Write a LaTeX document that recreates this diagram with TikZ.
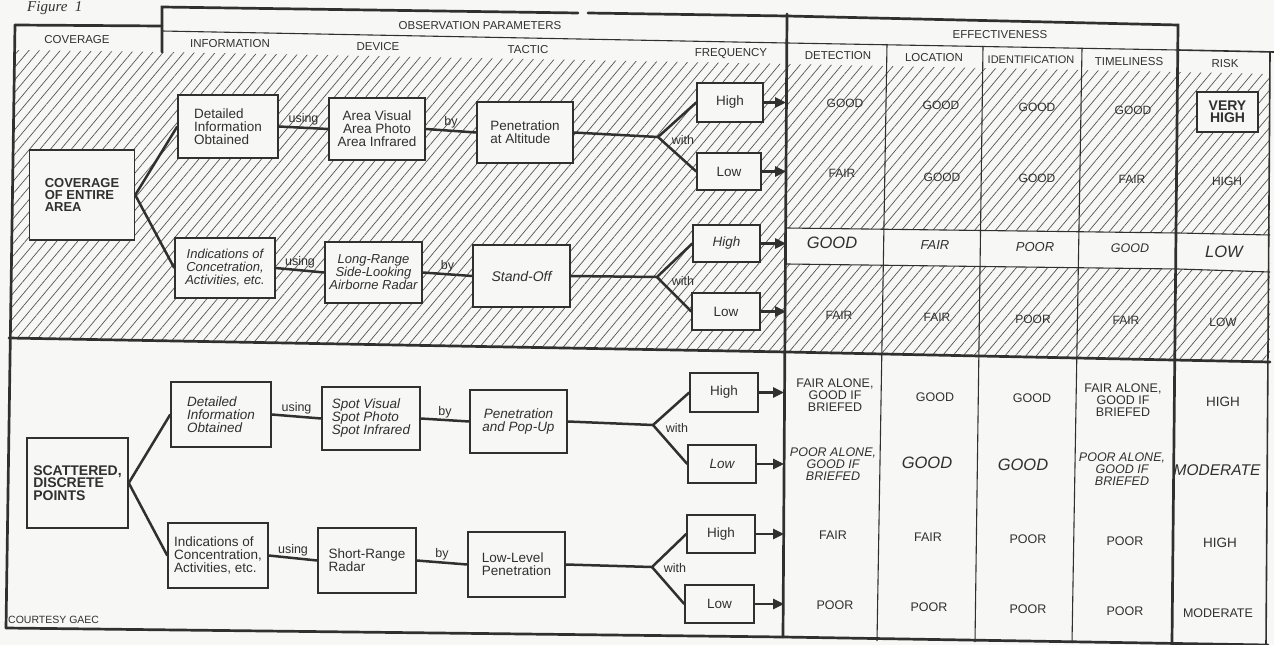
\documentclass[tikz,border=0pt]{standalone}
\usepackage{fontspec}
\setmainfont{Liberation Sans}
\newfontfamily\figfont{Liberation Serif}
\usetikzlibrary{arrows.meta,patterns.meta}
\definecolor{ink}{HTML}{303030}
\definecolor{paper}{HTML}{F7F7F5}
\definecolor{hatchc}{HTML}{555555}
\newcommand\fsz[2]{\fontsize{#1}{#2}\selectfont}
\tikzset{
  frame/.style={draw=ink, line width=2.7pt, line cap=round},
  rule/.style={draw=ink, line width=1.1pt},
  hdr/.style={text=ink, font=\fsz{11.5}{12}, inner sep=0pt},
  bx/.style={draw=ink, fill=paper, line width=1.5pt, text=ink, font=\fsz{13.5}{13}, align=center, inner sep=2pt},
  bigbx/.style={bx, font=\bfseries\fsz{13}{12}, align=left},
  conn/.style={draw=ink, line width=2.5pt, line join=round},
  arr/.style={draw=ink, line width=2.5pt, -{Triangle[length=11pt,width=10pt]}},
  lbl/.style={text=ink, font=\fsz{12.5}{13}, inner sep=1pt},
  val/.style={text=ink, font=\fsz{12}{12}, align=center, inner sep=0pt},
  lval/.style={text=ink, font=\fsz{12.5}{12}, align=center, inner sep=0pt},
  ival/.style={text=ink, font=\itshape\fsz{13}{12}, align=center, inner sep=0pt},
  bigval/.style={text=ink, font=\itshape\fsz{16.5}{16}, align=center, inner sep=0pt},
  hatched/.style={pattern={Lines[angle=50,distance=8pt,line width=0.7pt]}, pattern color=hatchc},
}
\begin{document}
\begin{tikzpicture}[x=1pt,y=-1pt]
\fill[paper] (0,0) rectangle (1274,645);
\useasboundingbox (0,0) rectangle (1274,645);

% hatched upper section
\fill[hatched] (15,50) -- (162,52) -- (787,64) -- (1178,72) -- (1270,74) -- (1270,362) -- (787,352) -- (9,338) -- cycle;
% white row in effectiveness
\fill[paper] (787,228) -- (1178,233) -- (1270,235) -- (1270,272) -- (1178,269) -- (787,264) -- cycle;
\draw[rule] (787,228) -- (1178,233) -- (1270,235);
\draw[rule] (787,264) -- (1178,269) -- (1270,272);

% figure title
\node[anchor=base west, text=ink, font=\figfont\itshape\fsz{15}{15}, inner sep=0pt] (fig) at (27,11) {Figure\ \ 1};

% frame and rules
\draw[frame] (15,25) -- (6,628);
\draw[frame] (15,25) -- (162,26);
\draw[frame] (162,52) -- (162,7) -- (578,13);
\draw[frame] (588,13) -- (787,16) -- (1178,25) -- (1172,642);
\draw[rule] (162,31) -- (787,43);
\draw[rule] (787,43) -- (1178,50);
\draw[draw=ink, line width=1.6pt] (1178,50) -- (1274,52);
\draw[draw=ink, line width=1.6pt] (1270,52) -- (1266,645);
\draw[rule] (887,44) -- (877,641);
\draw[rule] (983,46) -- (975,642);
\draw[rule] (1082,48) -- (1072,643);
\draw[frame] (787,14) -- (783,637);
\draw[frame] (9,338) -- (787,352) -- (1270,362);
\draw[frame] (6,628) -- (783,637) -- (1268,645);

% headers
\node[hdr] (hcov) at (77,40) {COVERAGE};
\node[hdr] (hobs) at (480,26) {OBSERVATION PARAMETERS};
\node[hdr] (hinf) at (230,44) {INFORMATION};
\node[hdr] (hdev) at (378,47) {DEVICE};
\node[hdr] (htac) at (528,50) {TACTIC};
\node[hdr] (hfrq) at (731,54) {FREQUENCY};
\node[hdr] (heff) at (1000,35) {EFFECTIVENESS};
\node[hdr] (hdet) at (838,56) {DETECTION};
\node[hdr] (hloc) at (934,58) {LOCATION};
\node[hdr, font=\fsz{11}{12}] (hidn) at (1031,60) {IDENTIFICATION};
\node[hdr] (htim) at (1129,62) {TIMELINESS};
\node[hdr] (hrsk) at (1225,64) {RISK};

% upper section boxes
\node[bigbx, minimum width=105pt, minimum height=90pt] (cov1) at (82,195) {COVERAGE\\OF ENTIRE\\AREA};
\node[bx, align=left, minimum width=100pt, minimum height=63pt] (inf1a) at (228,126.5) {Detailed\\Information\\Obtained};
\node[bx, font=\itshape\fsz{13}{13}, minimum width=100pt, minimum height=60pt] (inf1b) at (225,268) {Indications of\\Concetration,\\Activities, etc.};
\node[bx, minimum width=96pt, minimum height=62pt] (dev1a) at (377,129) {Area Visual\\Area Photo\\Area Infrared};
\node[bx, font=\itshape\fsz{13}{13}, minimum width=97pt, minimum height=61pt] (dev1b) at (373.5,272.5) {Long-Range\\Side-Looking\\Airborne Radar};
\node[bx, align=left, minimum width=96pt, minimum height=61pt] (tac1a) at (525,132.5) {Penetration\\at Altitude};
\node[bx, font=\itshape\fsz{14}{13}, minimum width=97pt, minimum height=62pt] (tac1b) at (521.5,276) {Stand-Off};
\node[bx, minimum width=66pt, minimum height=39pt] (f1) at (730,102.5) {High};
\node[bx, minimum width=64pt, minimum height=37pt] (f2) at (729,171.5) {Low};
\node[bx, font=\itshape\fsz{13.5}{13}, minimum width=67pt, minimum height=37pt] (f3) at (726.5,243.5) {High};
\node[bx, minimum width=68pt, minimum height=37pt] (f4) at (726,311.5) {Low};

% lower section boxes
\node[bigbx, font=\bfseries\fsz{14}{12.5}, minimum width=101pt, minimum height=90pt] (cov2) at (77.5,483) {SCATTERED,\\DISCRETE\\POINTS};
\node[bx, font=\itshape\fsz{13.5}{13}, align=left, minimum width=100pt, minimum height=65pt] (inf2a) at (221,414.5) {Detailed\\Information\\Obtained};
\node[bx, align=left, minimum width=100pt, minimum height=65pt] (inf2b) at (218,555.5) {Indications of\\Concentration,\\Activities, etc.};
\node[bx, font=\itshape\fsz{13.5}{13}, align=left, minimum width=98pt, minimum height=63pt] (dev2a) at (371,418.5) {Spot Visual\\Spot Photo\\Spot Infrared};
\node[bx, align=left, minimum width=98pt, minimum height=65pt] (dev2b) at (367,560.5) {Short-Range\\Radar};
\node[bx, font=\itshape\fsz{13.5}{13}, minimum width=97pt, minimum height=63pt] (tac2a) at (518.5,421.5) {Penetration\\and Pop-Up};
\node[bx, align=left, minimum width=97pt, minimum height=65pt] (tac2b) at (516.5,564.5) {Low-Level\\Penetration};
\node[bx, minimum width=68pt, minimum height=39pt] (g1) at (724,392.5) {High};
\node[bx, font=\itshape\fsz{13.5}{13}, minimum width=68pt, minimum height=38pt] (g2) at (722,464) {Low};
\node[bx, minimum width=68pt, minimum height=38pt] (g3) at (721,534) {High};
\node[bx, minimum width=69pt, minimum height=38pt] (g4) at (719.5,604) {Low};

% branch points and divider references
\coordinate (b1) at (658,137);
\coordinate (b2) at (657,277);
\coordinate (b3) at (653,425);
\coordinate (b4) at (652,567);
\coordinate (dvu) at (786,0);
\coordinate (dvl) at (784,0);

% connectors upper
\draw[conn] (cov1.east) -- (inf1a.west);
\draw[conn] (cov1.east) -- (inf1b.west);
\draw[conn] (inf1a.east) -- node[lbl, above] (u1) {using} (dev1a.west);
\draw[conn] (inf1b.east) -- node[lbl, above] (u2) {using} (dev1b.west);
\draw[conn] (dev1a.east) -- node[lbl, above] (y1) {by} (tac1a.west);
\draw[conn] (dev1b.east) -- node[lbl, above] (y2) {by} (tac1b.west);
\draw[conn] (tac1a.east) -- (b1) -- (f1.west);
\draw[conn] (b1) -- (f2.west);
\draw[conn] (tac1b.east) -- (b2) -- (f3.west);
\draw[conn] (b2) -- (f4.west);
\node[lbl] (w1) at (683,140) {with};
\node[lbl] (w2) at (683,281) {with};

% connectors lower
\draw[conn] (cov2.east) -- (inf2a.west);
\draw[conn] (cov2.east) -- (inf2b.west);
\draw[conn] (inf2a.east) -- node[lbl, above] (u3) {using} (dev2a.west);
\draw[conn] (inf2b.east) -- node[lbl, above] (u4) {using} (dev2b.west);
\draw[conn] (dev2a.east) -- node[lbl, above] (y3) {by} (tac2a.west);
\draw[conn] (dev2b.east) -- node[lbl, above] (y4) {by} (tac2b.west);
\draw[conn] (tac2a.east) -- (b3) -- (g1.west);
\draw[conn] (b3) -- (g2.west);
\draw[conn] (tac2b.east) -- (b4) -- (g3.west);
\draw[conn] (b4) -- (g4.west);
\node[lbl] (w3) at (677,428) {with};
\node[lbl] (w4) at (675,568) {with};

% arrows to the table
\foreach \n in {f1,f2,f3,f4} \draw[arr] (\n.east) -- (\n.east -| dvu);
\foreach \n in {g1,g2,g3,g4} \draw[arr] (\n.east) -- (\n.east -| dvl);

% effectiveness values, upper section
\node[val] (u11) at (845,103) {GOOD};
\node[val] (u12) at (941,105) {GOOD};
\node[val] (u13) at (1037,107) {GOOD};
\node[val] (u14) at (1133,110) {GOOD};
\node[draw=ink, fill=paper, line width=1.4pt, text=ink, font=\bfseries\fsz{14}{11.5}, align=center, inner sep=1pt, minimum width=61pt, minimum height=40pt] (u15) at (1227.5,112) {VERY\\HIGH};
\node[val] (u21) at (842,173) {FAIR};
\node[val] (u22) at (942,177) {GOOD};
\node[val] (u23) at (1037,178) {GOOD};
\node[val] (u24) at (1132,179) {FAIR};
\node[val] (u25) at (1227,181) {HIGH};
\node[bigval] (u31) at (832,243) {GOOD};
\node[ival] (u32) at (935,245) {FAIR};
\node[ival] (u33) at (1035,247) {POOR};
\node[ival, font=\itshape\fsz{12.5}{12}] (u34) at (1130,248) {GOOD};
\node[bigval] (u35) at (1224,252) {LOW};
\node[val] (u41) at (839,315) {FAIR};
\node[val] (u42) at (937,317) {FAIR};
\node[val] (u43) at (1033,319) {POOR};
\node[val] (u44) at (1126,320) {FAIR};
\node[val] (u45) at (1223,322) {LOW};

% effectiveness values, lower section
\node[lval] (l11) at (835,395) {FAIR ALONE,\\GOOD IF\\BRIEFED};
\node[lval] (l12) at (935,397) {GOOD};
\node[lval] (l13) at (1032,398) {GOOD};
\node[lval] (l14) at (1123,400) {FAIR ALONE,\\GOOD IF\\BRIEFED};
\node[lval, font=\fsz{13.5}{12}] (l15) at (1223,402) {HIGH};
\node[lval, font=\itshape\fsz{12.5}{12}] (l21) at (833,464) {POOR ALONE,\\GOOD IF\\BRIEFED};
\node[bigval] (l22) at (927,463) {GOOD};
\node[bigval] (l23) at (1023,465) {GOOD};
\node[lval, font=\itshape\fsz{12.5}{12}] (l24) at (1122,469) {POOR ALONE,\\GOOD IF\\BRIEFED};
\node[bigval, font=\itshape\fsz{15.5}{16}] (l25) at (1217,470) {MODERATE};
\node[lval] (l31) at (833,535) {FAIR};
\node[lval] (l32) at (928,537) {FAIR};
\node[lval] (l33) at (1028,539) {POOR};
\node[lval] (l34) at (1125,541) {POOR};
\node[lval, font=\fsz{13.5}{12}] (l35) at (1220,543) {HIGH};
\node[lval] (l41) at (835,605) {POOR};
\node[lval] (l42) at (929,607) {POOR};
\node[lval] (l43) at (1028,609) {POOR};
\node[lval] (l44) at (1125,611) {POOR};
\node[lval] (l45) at (1218,613) {MODERATE};

\node[text=ink, font=\fsz{10.5}{11}, inner sep=0pt, anchor=base west] (court) at (8,623) {COURTESY GAEC};
\end{tikzpicture}
\end{document}
